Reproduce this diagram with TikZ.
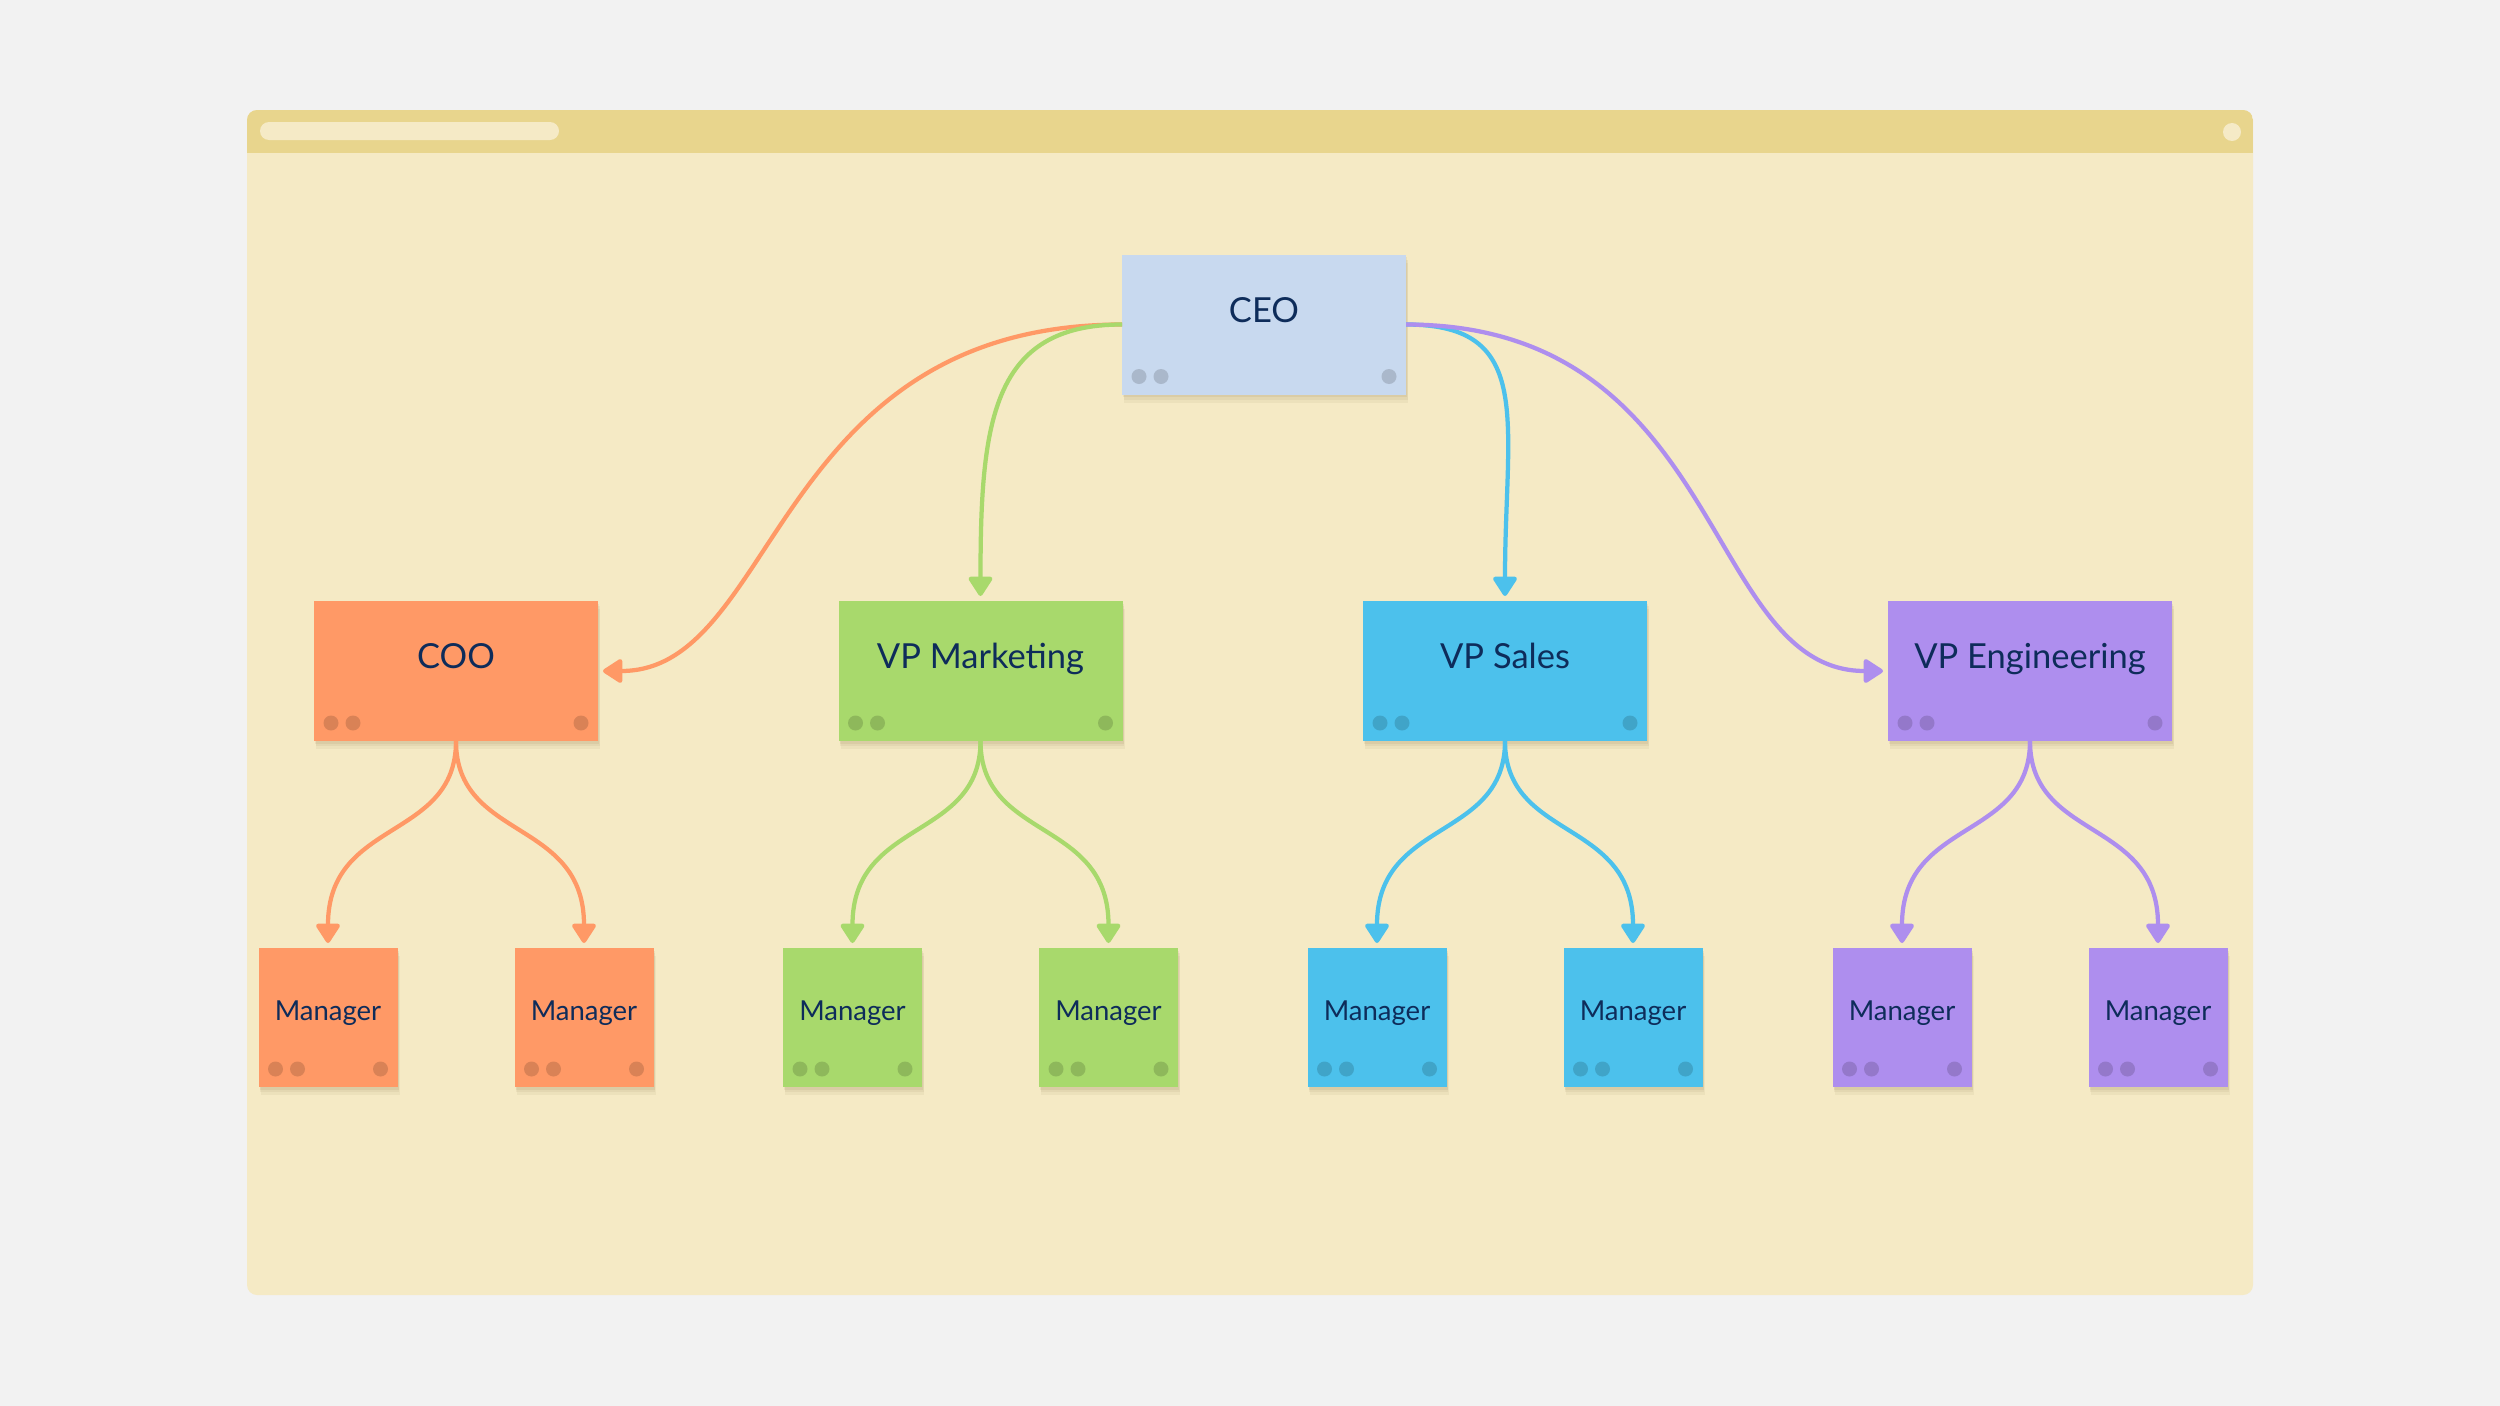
\documentclass[tikz,border=0pt]{standalone}
\usepackage{fontspec}
\setmainfont{Lato}
\usetikzlibrary{arrows.meta,shadows}
\definecolor{pagecol}{HTML}{F2F2F2}
\definecolor{wincol}{HTML}{F5EAC5}
\definecolor{barcol}{HTML}{E8D58D}
\definecolor{pillcol}{HTML}{F5EAC6}
\definecolor{txtcol}{HTML}{0E2C5A}
\definecolor{shadecol}{HTML}{6B5A2A}
\definecolor{ceocol}{HTML}{C8D9EF}
\definecolor{coocol}{HTML}{FF9966}
\definecolor{mktcol}{HTML}{A8D96C}
\definecolor{salcol}{HTML}{4CC1EC}
\definecolor{engcol}{HTML}{AE8EEE}
\begin{document}
\begin{tikzpicture}[x=0.4pt,y=-0.4pt,>={Triangle[length=8.5pt,width=10.5pt,round]},line join=round,
  card/.style={draw=none,inner sep=0pt,outer sep=0pt,text=txtcol,
    drop shadow={shadow xshift=0.4pt,shadow yshift=-1pt,opacity=0.08,fill=shadecol},
    drop shadow={shadow xshift=0.6pt,shadow yshift=-2pt,opacity=0.07,fill=shadecol},
    drop shadow={shadow xshift=0.8pt,shadow yshift=-3.2pt,opacity=0.06,fill=shadecol},
    path picture={
      \fill[black,opacity=0.15] ([shift={(6.8pt,7.2pt)}]path picture bounding box.south west) circle (3pt);
      \fill[black,opacity=0.15] ([shift={(15.6pt,7.2pt)}]path picture bounding box.south west) circle (3pt);
      \fill[black,opacity=0.15] ([shift={(-6.8pt,7.2pt)}]path picture bounding box.south east) circle (3pt);}},
  head/.style={card,minimum width=113.6pt,minimum height=56pt,font=\fontsize{13.8}{16}\selectfont,text height=10pt,text depth=12pt},
  staff/.style={card,minimum width=55.6pt,minimum height=55.6pt,font=\fontsize{11}{13}\selectfont,text height=8pt,text depth=6pt},
  link/.style={line width=1.7pt,->,shorten >=2pt}]
%%
\useasboundingbox (0,0) rectangle (2500,1406);
\fill[pagecol] (0,0) rectangle (2500,1406);
\fill[wincol,rounded corners=4pt] (247,110) rectangle (2253,1295);
\begin{scope}
  \clip[rounded corners=4pt] (247,110) rectangle (2253,1295);
  \fill[barcol] (247,110) rectangle (2253,153);
\end{scope}
\fill[pillcol,rounded corners=3.6pt] (260,122) rectangle (559,140);
\fill[pillcol] (2232,132) circle (3.6pt);
%
\node (node_ceo) at (1264,324.5) [head,fill=ceocol] {CEO};
  \node (node_coo) at (456,671) [head,fill=coocol] {COO};
  \node (node_mkt) at (980.5,671) [head,fill=mktcol] {VP Marketing};
  \node (node_sal) at (1505,671) [head,fill=salcol] {VP Sales};
  \node (node_eng) at (2030,671) [head,fill=engcol] {VP Engineering};
  \node (node_coo_a) at (328,1017.5) [staff,fill=coocol] {Manager};
  \node (node_coo_b) at (584,1017.5) [staff,fill=coocol] {Manager};
  \node (node_mkt_a) at (852.5,1017.5) [staff,fill=mktcol] {Manager};
  \node (node_mkt_b) at (1108.5,1017.5) [staff,fill=mktcol] {Manager};
  \node (node_sal_a) at (1377,1017.5) [staff,fill=salcol] {Manager};
  \node (node_sal_b) at (1633,1017.5) [staff,fill=salcol] {Manager};
  \node (node_eng_a) at (1902,1017.5) [staff,fill=engcol] {Manager};
  \node (node_eng_b) at (2158,1017.5) [staff,fill=engcol] {Manager};
%
  \draw [link,coocol] (node_ceo.west) ..controls (772,324.5) and (778,671) .. (node_coo.east);
  \draw [link,mktcol] (node_ceo.west) ..controls (992,324.5) and (980.5,421) .. (node_mkt.north);
  \draw [link,salcol] (node_ceo.east) ..controls (1536,324.5) and (1505,421) .. (node_sal.north);
  \draw [link,engcol] (node_ceo.east) ..controls (1726,324.5) and (1703,671) .. (node_eng.west);
  \draw [link,coocol] (node_coo.south) ..controls (456,841) and (328,818) .. (node_coo_a.north);
  \draw [link,coocol] (node_coo.south) ..controls (456,841) and (584,818) .. (node_coo_b.north);
  \draw [link,mktcol] (node_mkt.south) ..controls (980.5,841) and (852.5,818) .. (node_mkt_a.north);
  \draw [link,mktcol] (node_mkt.south) ..controls (980.5,841) and (1108.5,818) .. (node_mkt_b.north);
  \draw [link,salcol] (node_sal.south) ..controls (1505,841) and (1377,818) .. (node_sal_a.north);
  \draw [link,salcol] (node_sal.south) ..controls (1505,841) and (1633,818) .. (node_sal_b.north);
  \draw [link,engcol] (node_eng.south) ..controls (2030,841) and (1902,818) .. (node_eng_a.north);
  \draw [link,engcol] (node_eng.south) ..controls (2030,841) and (2158,818) .. (node_eng_b.north);
%
\end{tikzpicture}
\end{document}
